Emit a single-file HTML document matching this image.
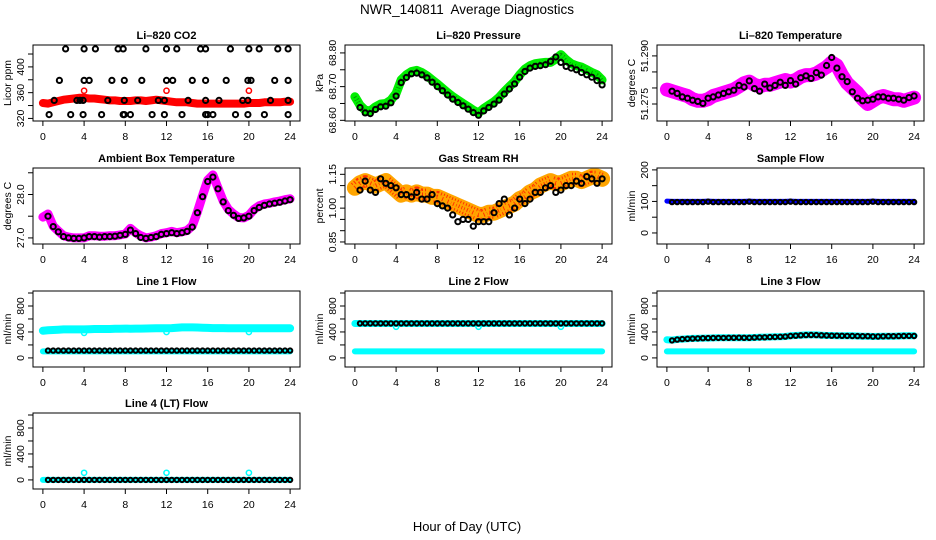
<!DOCTYPE html>
<html><head><meta charset="utf-8"><style>
html,body{margin:0;padding:0;background:#fff;}
svg{display:block;font-family:"Liberation Sans",Arial,sans-serif;}
</style></head><body>
<svg id="chart" width="936" height="540" viewBox="0 0 936 540" xmlns="http://www.w3.org/2000/svg">
<rect width="936" height="540" fill="#fff"/>
<text x="467" y="14" text-anchor="middle" font-size="13.5">NWR_140811&#160; Average Diagnostics</text>
<text x="467" y="531" text-anchor="middle" font-size="13">Hour of Day (UTC)</text>
</svg>
<script>
// ---- data ----
const hoursHalf = [0,0.5,1,1.5,2,2.5,3,3.5,4,4.5,5,5.5,6,6.5,7,7.5,8,8.5,9,9.5,10,10.5,11,11.5,12,12.5,13,13.5,14,14.5,15,15.5,16,16.5,17,17.5,18,18.5,19,19.5,20,20.5,21,21.5,22,22.5,23,23.5,24];
const hoursBlack = [0.5,1,1.5,2,2.5,3,3.5,4,4.5,5,5.5,6,6.5,7,7.5,8,8.5,9,9.5,10,10.5,11,11.5,12,12.5,13,13.5,14,14.5,15,15.5,16,16.5,17,17.5,18,18.5,19,19.5,20,20.5,21,21.5,22,22.5,23,23.5,24];
const xTicks = [0,4,8,12,16,20,24];

const co2Red = [344,343,345,347,349,350,351,352,352,351,351,350,349,348,348,347,347,347,348,348,347,348,349,348,347,346,345,345,345,344,343,343,343,343,343,343,343,343,343,343,344,344,344,345,345,345,345,346,346];
const co2OutT = [4,12,20];
const co2OutV = [363,363,363];
const co2BlackT = [2.2,4,5.1,7.3,7.8,10,12,13,15.3,15.8,18.2,20,21,22.8,23.8, 1.6,4,4.5,6.7,7.9,9.6,12,12.6,14.5,15.8,17.8,19.9,20.2,22.5,23.8, 1.1,3.3,3.6,3.9,6.3,7.9,9.2,11.2,11.8,14.1,15.8,17.1,19.4,19.9,22.1,23.8, 0.6,2.7,3.9,5.7,7.8,7.9,8.5,10.6,11.8,13.5,15.8,16,16.5,18.7,19.9,21.5,23.8];
const co2BlackV = [428,428,428,428,428,428,428,428,428,428,428,428,428,428,428, 379,379,379,379,379,379,379,379,379,379,379,379,379,379,379, 348,348,348,348,348,348,348,348,348,348,348,348,348,348,348,348, 326,326,326,326,326,326,326,326,326,326,326,326,326,326,326,326,326];

const presGreen = [68.670,68.645,68.630,68.628,68.640,68.648,68.650,68.660,68.680,68.720,68.735,68.745,68.748,68.742,68.732,68.720,68.708,68.695,68.682,68.670,68.660,68.650,68.640,68.630,68.622,68.635,68.645,68.655,68.668,68.685,68.700,68.715,68.735,68.752,68.762,68.768,68.770,68.772,68.772,68.782,68.795,68.780,68.768,68.762,68.758,68.750,68.742,68.735,68.720];
const presBlack = [68.638,68.622,68.620,68.632,68.640,68.642,68.652,68.672,68.712,68.727,68.738,68.740,68.735,68.726,68.713,68.700,68.688,68.675,68.663,68.653,68.643,68.633,68.623,68.615,68.628,68.638,68.648,68.660,68.678,68.693,68.708,68.728,68.745,68.755,68.760,68.762,68.765,68.775,68.788,68.772,68.760,68.755,68.750,68.742,68.735,68.728,68.718,68.705];

const tempMag = [51.2795,51.2790,51.2785,51.2780,51.2775,51.2765,51.2760,51.2760,51.2765,51.2775,51.2780,51.2785,51.2790,51.2795,51.2805,51.2815,51.2820,51.2810,51.2805,51.2810,51.2810,51.2815,51.2820,51.2825,51.2820,51.2825,51.2835,51.2840,51.2840,51.2845,51.2855,51.2865,51.2880,51.2870,51.2840,51.2815,51.2800,51.2785,51.2765,51.2750,51.2760,51.2770,51.2775,51.2770,51.2765,51.2765,51.2760,51.2765,51.2770];
const tempBlack = [51.2790,51.2783,51.2772,51.2768,51.2762,51.2758,51.2752,51.2768,51.2772,51.2778,51.2783,51.2788,51.2793,51.2808,51.2803,51.2822,51.2798,51.2790,51.2812,51.2800,51.2808,51.2818,51.2808,51.2823,51.2812,51.2832,51.2838,51.2830,51.2848,51.2840,51.2870,51.2895,51.2862,51.2835,51.2820,51.2788,51.2768,51.2760,51.2762,51.2765,51.2772,51.2772,51.2768,51.2768,51.2765,51.2762,51.2770,51.2775];

const ambMag = [27.48,27.55,27.27,27.16,27.05,27.02,27.00,27.00,27.00,27.05,27.05,27.04,27.04,27.05,27.05,27.07,27.09,27.22,27.12,27.05,27.00,27.02,27.05,27.10,27.12,27.15,27.12,27.14,27.17,27.28,27.60,27.98,28.33,28.45,28.15,27.85,27.66,27.55,27.47,27.46,27.52,27.66,27.74,27.78,27.80,27.83,27.85,27.88,27.90];
const ambBlack = [27.50,27.26,27.14,27.03,27.00,26.99,26.99,27.00,27.03,27.03,27.02,27.03,27.03,27.04,27.06,27.08,27.18,27.10,27.01,26.99,27.01,27.03,27.08,27.10,27.12,27.10,27.12,27.15,27.25,27.58,27.95,28.30,28.40,28.13,27.83,27.63,27.52,27.45,27.46,27.50,27.63,27.70,27.75,27.78,27.80,27.82,27.85,27.88];

const rhOrange = [1.09,1.11,1.12,1.11,1.10,1.11,1.12,1.10,1.08,1.06,1.07,1.06,1.07,1.06,1.06,1.05,1.05,1.04,1.03,1.02,1.01,1.00,0.99,0.98,0.97,0.97,0.98,0.98,0.99,1.00,1.01,1.02,1.04,1.05,1.07,1.08,1.10,1.11,1.12,1.11,1.11,1.12,1.13,1.13,1.12,1.13,1.14,1.14,1.13];
const rhBlack = [1.08,1.12,1.08,1.07,1.13,1.11,1.10,1.09,1.06,1.06,1.05,1.07,1.04,1.04,1.06,1.02,1.01,1.00,0.97,0.94,0.95,0.95,0.92,0.94,0.94,0.94,0.98,1.02,1.04,0.97,1.00,1.04,1.02,1.04,1.07,1.07,1.09,1.10,1.07,1.08,1.10,1.10,1.12,1.11,1.14,1.13,1.11,1.13];

const sampleBlue = [101,100,100,100,100,100,100,100,101,100,100,100,100,100,100,100,101,100,100,100,100,100,100,100,101,100,100,100,100,100,100,100,100,100,100,100,100,100,100,100,101,100,100,100,100,100,100,100,100];
const sampleBlack = [98,98,98,98,98,98,98,99,98,98,98,98,98,98,98,99,98,98,98,98,98,98,98,99,98,98,98,98,98,98,98,98,98,98,98,98,98,98,98,99,98,98,98,98,98,98,98,98];

const line1Cyan = [420,425,430,435,440,440,440,440,440,442,445,445,445,446,448,450,452,450,452,452,453,455,456,458,458,460,465,470,470,470,468,465,462,460,460,460,458,458,458,458,458,458,458,458,458,458,458,458,456];
const line1CyanLow = [100,100,100,100,100,100,100,100,100,100,100,100,100,100,100,100,100,100,100,100,100,100,100,100,100,100,100,100,100,100,100,100,100,100,100,100,100,100,100,100,100,100,100,100,100,100,100,100,100];
const line1Black = [112,112,112,112,112,112,112,112,112,112,112,112,112,112,112,112,112,112,112,112,112,112,112,112,112,112,112,112,112,112,112,112,112,112,112,112,112,112,112,112,112,112,112,112,112,112,112,112];
const line1OutT = [4,12,20];
const line1OutV = [385,400,400];

const line2Cyan = [530,530,530,530,530,530,530,530,530,530,530,530,530,530,530,530,530,530,530,530,530,530,530,530,530,530,530,530,530,530,530,530,530,530,530,530,530,530,530,530,530,530,530,530,530,530,530,530,530];
const line2CyanLow = [100,100,100,100,100,100,100,100,100,100,100,100,100,100,100,100,100,100,100,100,100,100,100,100,100,100,100,100,100,100,100,100,100,100,100,100,100,100,100,100,100,100,100,100,100,100,100,100,100];
const line2Black = [532,532,532,532,532,532,532,532,532,532,532,532,532,532,532,532,532,532,532,532,532,532,532,532,532,532,532,532,532,532,532,532,532,532,532,532,532,532,532,532,532,532,532,532,532,532,532,532];
const line2OutT = [4,12,20];
const line2OutV = [480,480,480];

const line3Cyan = [280,275,285,290,295,300,300,305,305,308,310,310,310,312,312,310,310,315,318,320,322,325,325,330,340,345,350,355,355,355,350,345,345,343,340,340,340,338,335,335,330,332,335,335,335,338,340,340,340];
const line3CyanLow = [100,100,100,100,100,100,100,100,100,100,100,100,100,100,100,100,100,100,100,100,100,100,100,100,100,100,100,100,100,100,100,100,100,100,100,100,100,100,100,100,100,100,100,100,100,100,100,100,100];
const line3Black = [270,282,290,295,298,300,303,305,307,308,308,310,310,311,310,310,313,316,318,320,323,325,328,338,343,348,352,353,352,348,345,343,342,340,339,338,336,334,334,330,330,333,334,334,336,338,339,338];

const line4Cyan = [0,0,0,0,0,0,0,0,0,0,0,0,0,0,0,0,0,0,0,0,0,0,0,0,0,0,0,0,0,0,0,0,0,0,0,0,0,0,0,0,0,0,0,0,0,0,0,0,0];
const line4Black = [0,0,0,0,0,0,0,0,0,0,0,0,0,0,0,0,0,0,0,0,0,0,0,0,0,0,0,0,0,0,0,0,0,0,0,0,0,0,0,0,0,0,0,0,0,0,0,0];
const line4OutT = [4,12,20];
const line4OutV = [110,110,110];

const flowTicks = [0,200,400,600,800,1000];
const flowLabels = [0,400,800];

// ---- drawing ----
const NS = 'http://www.w3.org/2000/svg';
const svg = document.getElementById('chart');
const colX = [33,345,657], rowY = [45,168,291,413], W = 267, H = 76;
function mk(tag, attrs, parent) {
  const e = document.createElementNS(NS, tag);
  for (const k in attrs) e.setAttribute(k, attrs[k]);
  (parent || svg).appendChild(e);
  return e;
}
function panel(cfg) {
  const L = colX[cfg.col], T = rowY[cfg.row];
  const g = mk('g', {});
  
  
  const xs = t => L + (t + 0.96) / 25.92 * W;
  const ys = v => T + H - (v - cfg.ymin) / (cfg.ymax - cfg.ymin) * H;
  const clip = mk('clipPath', {id: 'c' + cfg.name}, g);
  mk('rect', {x: L, y: T, width: W, height: H}, clip);
  const plot = mk('g', {'clip-path': 'url(#c' + cfg.name + ')'}, g);
  
  
  cfg.bands.forEach(b => {
    const pts = b.t.map((t, i) => xs(t).toFixed(1) + ',' + ys(b.v[i]).toFixed(1)).join(' ');
    const pl = mk('polyline', {points: pts, fill: 'none', stroke: b.color, 'stroke-width': b.w, 'stroke-linejoin': 'round', 'stroke-linecap': 'round'}, plot);
    
    
    if (b.dot) {
      const pl2 = mk('polyline', {points: pts, fill: 'none', stroke: b.dot, 'stroke-width': b.w - 4, 'stroke-dasharray': '1 2', 'stroke-linejoin': 'round', opacity: 0.7}, plot);
      
      
    }
  });
  cfg.points.forEach(s => {
    s.t.forEach((t, i) => {
      const c = mk('circle', {cx: xs(t).toFixed(1), cy: ys(s.v[i]).toFixed(1), r: s.r || 2.6, fill: 'none', stroke: s.color, 'stroke-width': s.color === '#000' ? 2 : 1.5}, plot);
      
      
    });
  });
  const box = mk('rect', {x: L, y: T, width: W, height: H, fill: 'none', stroke: '#000', 'stroke-width': 1}, g);
  
  
  const tt = mk('text', {x: L + W / 2, y: T - 6, 'text-anchor': 'middle', 'font-size': 11, 'font-weight': 'bold'}, g);
  tt.textContent = cfg.title;
  
  
  xTicks.forEach(t => {
    mk('line', {x1: xs(t), x2: xs(t), y1: T + H, y2: T + H + 5, stroke: '#000'}, g);
    const lb = mk('text', {x: xs(t), y: T + H + 19, 'text-anchor': 'middle', 'font-size': 10.5}, g);
    lb.textContent = t;
    
    
  });
  cfg.yticks.forEach(v => {
    mk('line', {x1: L - 5, x2: L, y1: ys(v), y2: ys(v), stroke: '#000'}, g);
  });
  cfg.ylabels.forEach((v, i) => {
    const y = ys(v), x = L - 9;
    const lb = mk('text', {x: x, y: y, 'text-anchor': 'middle', 'font-size': 10.5, transform: 'rotate(-90 ' + x + ' ' + y + ')'}, g);
    lb.textContent = cfg.ylabelText ? cfg.ylabelText[i] : v;
    
    
  });
  const ax = L - 22, ay = T + H / 2;
  const yt = mk('text', {x: ax, y: ay, 'text-anchor': 'middle', 'font-size': 10.5, transform: 'rotate(-90 ' + ax + ' ' + ay + ')'}, g);
  yt.textContent = cfg.ytitle;
  
  
}
const flowCfg = {ymin: -140, ymax: 1031, yticks: flowTicks, ylabels: flowLabels, ytitle: 'ml/min'};
panel({name: 'co2', col: 0, row: 0, title: 'Li\u2013820 CO2', ytitle: 'Licor ppm', ymin: 316, ymax: 434,
  yticks: [320,340,360,380,400,420], ylabels: [320,360,400],
  bands: [{name: 'co2-red', t: hoursHalf, v: co2Red, color: '#ff0000', w: 8}],
  points: [{name: 'co2-red', t: hoursHalf, v: co2Red, color: '#ff0000'}, {name: 'co2-red-outlier', t: co2OutT, v: co2OutV, color: '#ff0000'}, {name: 'co2-black', t: co2BlackT, v: co2BlackV, color: '#000'}]});
panel({name: 'pressure', col: 1, row: 0, title: 'Li\u2013820 Pressure', ytitle: 'kPa', ymin: 68.598, ymax: 68.8235,
  yticks: [68.60,68.65,68.70,68.75,68.80], ylabels: [68.60,68.70,68.80], ylabelText: ['68.60','68.70','68.80'],
  bands: [{name: 'pressure-green', t: hoursHalf, v: presGreen, color: '#00ee00', w: 9, dot: '#007700'}],
  points: [{name: 'pressure-green', t: hoursHalf, v: presGreen, color: '#00ee00'}, {name: 'pressure-black', t: hoursBlack, v: presBlack, color: '#000'}]});
panel({name: 'li820-temp', col: 2, row: 0, title: 'Li\u2013820 Temperature', ytitle: 'degrees C', ymin: 51.2697, ymax: 51.2934,
  yticks: [51.275,51.280,51.285,51.290], ylabels: [51.275,51.290], ylabelText: ['51.275','51.290'],
  bands: [{name: 'li820-temp-magenta', t: hoursHalf, v: tempMag, color: '#ff00ff', w: 14}],
  points: [{name: 'li820-temp-magenta', t: hoursHalf, v: tempMag, color: '#ff00ff', r: 3}, {name: 'li820-temp-black', t: hoursBlack, v: tempBlack, color: '#000'}]});
panel({name: 'ambient-temp', col: 0, row: 1, title: 'Ambient Box Temperature', ytitle: 'degrees C', ymin: 26.86, ymax: 28.61,
  yticks: [27.0,27.5,28.0,28.5], ylabels: [27.0,28.0], ylabelText: ['27.0','28.0'],
  bands: [{name: 'ambient-magenta', t: hoursHalf, v: ambMag, color: '#ff00ff', w: 9}],
  points: [{name: 'ambient-black', t: hoursBlack, v: ambBlack, color: '#000'}]});
panel({name: 'gas-rh', col: 1, row: 1, title: 'Gas Stream RH', ytitle: 'percent', ymin: 0.841, ymax: 1.178,
  yticks: [0.85,0.90,0.95,1.00,1.05,1.10,1.15], ylabels: [0.85,1.00,1.15], ylabelText: ['0.85','1.00','1.15'],
  bands: [{name: 'gas-rh-orange', t: hoursHalf, v: rhOrange, color: '#ffa500', w: 16, dot: '#ff0000'}],
  points: [{name: 'gas-rh-orange', t: hoursHalf, v: rhOrange, color: '#ffa500', r: 3}, {name: 'gas-rh-black', t: hoursBlack, v: rhBlack, color: '#000'}]});
panel({name: 'sample-flow', col: 2, row: 1, title: 'Sample Flow', ytitle: 'ml/min', ymin: -35, ymax: 206,
  yticks: [0,50,100,150,200], ylabels: [0,100,200],
  bands: [{name: 'sample-blue', t: hoursHalf, v: sampleBlue, color: '#0000ff', w: 5}],
  points: [{name: 'sample-black', t: hoursBlack, v: sampleBlack, color: '#000', r: 2.2}]});
panel(Object.assign({name: 'line1-flow', col: 0, row: 2, title: 'Line 1 Flow',
  bands: [{name: 'line1-cyan', t: hoursHalf, v: line1Cyan, color: '#00ffff', w: 8}, {name: 'line1-cyan-low', t: hoursHalf, v: line1CyanLow, color: '#00ffff', w: 6}],
  points: [{name: 'line1-cyan-outlier', t: line1OutT, v: line1OutV, color: '#00ffff'}, {name: 'line1-black', t: hoursBlack, v: line1Black, color: '#000', r: 2.2}]}, flowCfg));
panel(Object.assign({name: 'line2-flow', col: 1, row: 2, title: 'Line 2 Flow',
  bands: [{name: 'line2-cyan', t: hoursHalf, v: line2Cyan, color: '#00ffff', w: 7}, {name: 'line2-cyan-low', t: hoursHalf, v: line2CyanLow, color: '#00ffff', w: 6}],
  points: [{name: 'line2-cyan-outlier', t: line2OutT, v: line2OutV, color: '#00ffff'}, {name: 'line2-black', t: hoursBlack, v: line2Black, color: '#000', r: 2.2}]}, flowCfg));
panel(Object.assign({name: 'line3-flow', col: 2, row: 2, title: 'Line 3 Flow',
  bands: [{name: 'line3-cyan', t: hoursHalf, v: line3Cyan, color: '#00ffff', w: 7}, {name: 'line3-cyan-low', t: hoursHalf, v: line3CyanLow, color: '#00ffff', w: 6}],
  points: [{name: 'line3-black', t: hoursBlack, v: line3Black, color: '#000', r: 2.2}]}, flowCfg));
panel(Object.assign({name: 'line4-flow', col: 0, row: 3, title: 'Line 4 (LT) Flow',
  bands: [{name: 'line4-cyan', t: hoursHalf, v: line4Cyan, color: '#00ffff', w: 6}],
  points: [{name: 'line4-cyan-outlier', t: line4OutT, v: line4OutV, color: '#00ffff'}, {name: 'line4-black', t: hoursBlack, v: line4Black, color: '#000', r: 2.2}]}, flowCfg));
</script>
</body></html>
